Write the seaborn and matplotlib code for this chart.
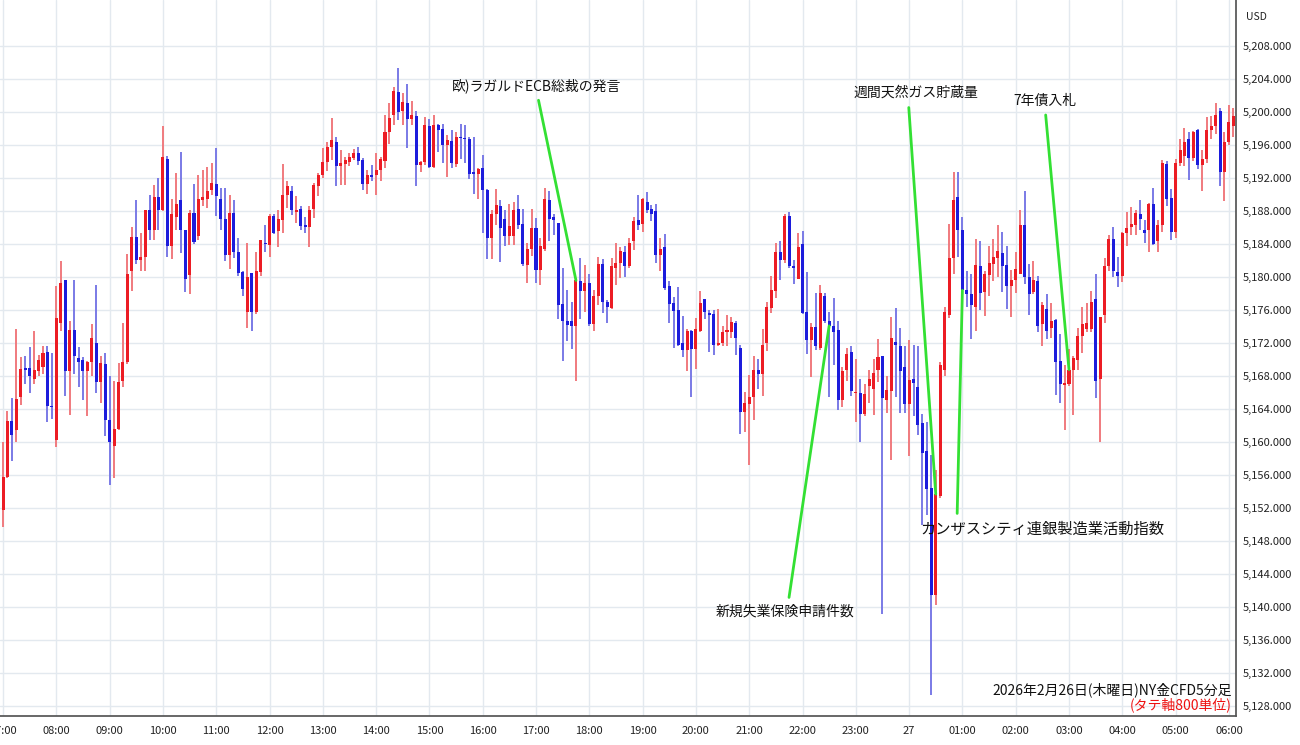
import numpy as np
import pandas as pd
import matplotlib
matplotlib.use("Agg")
import matplotlib.pyplot as plt
import seaborn as sns

# 5-minute candles, 07:00 (26th) .. 06:05 (27th)
opens = [
 5151.8, 5155.8, 5162.6, 5161.5, 5165.5, 5168.9, 5169.0, 5167.6, 5168.6, 5169.1, 5170.9, 5164.4,
 5160.2, 5174.5, 5179.6, 5168.6, 5173.6, 5170.2, 5169.9, 5168.6, 5169.7, 5172.0, 5167.3, 5169.5,
 5162.7, 5159.5, 5161.6, 5167.4, 5169.7, 5180.8, 5184.9, 5182.1, 5182.4, 5188.2, 5185.7, 5189.7,
 5188.2, 5194.3, 5183.8, 5187.3, 5189.4, 5185.7, 5180.3, 5187.8, 5185.0, 5189.4, 5189.5, 5190.6,
 5191.3, 5189.5, 5187.0, 5182.7, 5187.8, 5183.1, 5180.6, 5175.8, 5180.5, 5175.8, 5180.6, 5184.2,
 5183.9, 5187.4, 5185.6, 5186.9, 5189.9, 5190.4, 5187.9, 5188.3, 5186.3, 5186.1, 5188.3, 5191.0,
 5192.4, 5194.0, 5195.8, 5196.4, 5193.5, 5193.7, 5194.0, 5194.5, 5195.0, 5194.2, 5191.3, 5192.4,
 5192.4, 5193.0, 5194.1, 5197.6, 5199.7, 5202.5, 5200.1, 5201.1, 5199.2, 5199.5, 5193.6, 5194.0,
 5198.3, 5193.4, 5198.4, 5198.0, 5196.0, 5196.5, 5193.7, 5197.0, 5196.9, 5196.7, 5192.7, 5192.5,
 5193.2, 5190.6, 5184.7, 5187.6, 5188.6, 5187.1, 5185.0, 5185.0, 5188.3, 5186.5, 5181.5, 5183.4,
 5185.9, 5180.9, 5183.4, 5189.4, 5187.3, 5186.6, 5176.7, 5174.7, 5174.7, 5174.1, 5179.5, 5178.3,
 5179.3, 5174.3, 5177.7, 5181.6, 5177.0, 5176.3, 5181.1, 5181.7, 5183.0, 5181.4, 5184.4, 5186.9,
 5186.4, 5189.1, 5188.3, 5188.0, 5182.7, 5183.6, 5178.9, 5176.9, 5176.0, 5172.0, 5171.2, 5173.5,
 5171.3, 5173.5, 5177.3, 5175.7, 5175.5, 5171.8, 5172.0, 5173.4, 5173.3, 5174.5, 5171.4, 5163.6,
 5164.6, 5165.5, 5168.8, 5168.2, 5172.0, 5176.3, 5178.3, 5183.0, 5182.1, 5187.4, 5181.4, 5179.8,
 5184.0, 5175.8, 5172.4, 5173.9, 5171.4, 5177.7, 5174.7, 5174.1, 5173.6, 5165.1, 5168.8, 5170.9,
 5165.9, 5166.0, 5163.4, 5166.8, 5166.5, 5168.7, 5170.5, 5165.1, 5166.2, 5172.2, 5171.6, 5169.1,
 5164.6, 5167.6, 5166.7, 5162.3, 5158.9, 5154.5, 5141.5, 5153.5, 5168.8, 5175.4, 5182.3, 5189.7,
 5185.7, 5178.4, 5178.0, 5176.4, 5181.3, 5178.2, 5180.3, 5181.6, 5182.3, 5182.9, 5181.5, 5178.9,
 5179.6, 5180.4, 5186.3, 5180.0, 5178.2, 5179.5, 5174.3, 5176.2, 5173.8, 5174.8, 5169.8, 5166.9,
 5167.1, 5168.8, 5169.9, 5172.9, 5173.7, 5173.7, 5177.3, 5167.7, 5175.4, 5181.4, 5184.6, 5180.6,
 5180.2, 5185.3, 5186.1, 5186.3, 5187.7, 5185.7, 5185.7, 5188.9, 5184.4, 5186.3, 5193.7, 5189.6,
 5185.5, 5193.9, 5194.7, 5196.8, 5194.5, 5197.9, 5193.6, 5194.3, 5197.8, 5198.3, 5200.2, 5192.7,
 5196.4, 5198.3]
highs = [
 5160.0, 5163.8, 5165.4, 5173.7, 5170.3, 5170.5, 5171.5, 5173.5, 5170.6, 5171.6, 5171.6, 5170.8,
 5178.9, 5182.0, 5179.6, 5174.7, 5179.7, 5171.5, 5170.3, 5169.8, 5174.3, 5179.0, 5170.5, 5170.8,
 5168.0, 5167.4, 5169.6, 5174.5, 5182.8, 5186.1, 5189.3, 5185.3, 5188.2, 5190.0, 5191.2, 5192.0,
 5198.3, 5194.7, 5189.5, 5192.6, 5195.2, 5185.7, 5188.2, 5191.3, 5192.4, 5193.0, 5193.4, 5193.9,
 5195.6, 5190.8, 5190.8, 5189.9, 5189.3, 5184.7, 5180.7, 5184.1, 5180.5, 5183.1, 5184.5, 5186.3,
 5187.6, 5187.6, 5188.1, 5193.7, 5191.6, 5191.1, 5189.8, 5188.6, 5187.3, 5188.6, 5191.4, 5192.6,
 5195.6, 5196.4, 5199.3, 5197.0, 5195.4, 5194.6, 5195.0, 5195.5, 5195.8, 5194.5, 5193.0, 5193.6,
 5195.1, 5194.6, 5199.6, 5201.1, 5203.1, 5205.4, 5202.3, 5203.4, 5201.3, 5200.1, 5194.1, 5199.4,
 5199.2, 5199.6, 5198.6, 5198.6, 5197.2, 5197.9, 5197.6, 5198.6, 5198.4, 5197.0, 5197.0, 5193.2,
 5194.8, 5190.7, 5188.1, 5190.7, 5189.3, 5188.1, 5188.9, 5189.1, 5189.9, 5188.3, 5184.2, 5188.3,
 5187.2, 5184.8, 5190.8, 5190.5, 5187.7, 5186.6, 5181.1, 5178.4, 5177.0, 5179.9, 5182.3, 5181.5,
 5180.4, 5178.4, 5182.4, 5182.2, 5177.2, 5182.3, 5184.1, 5183.7, 5183.8, 5184.8, 5187.3, 5190.0,
 5189.6, 5190.3, 5188.7, 5188.9, 5184.7, 5185.2, 5179.5, 5177.6, 5178.8, 5175.3, 5173.7, 5173.6,
 5175.1, 5178.3, 5177.3, 5176.0, 5176.0, 5176.1, 5174.1, 5175.4, 5175.2, 5174.7, 5171.8, 5166.1,
 5168.1, 5170.5, 5170.1, 5173.7, 5177.0, 5180.2, 5184.1, 5184.4, 5187.7, 5187.9, 5182.1, 5185.3,
 5185.6, 5180.6, 5174.5, 5178.1, 5179.0, 5178.1, 5175.8, 5177.5, 5174.7, 5169.1, 5171.4, 5171.6,
 5170.1, 5167.6, 5167.0, 5168.8, 5170.1, 5172.5, 5170.5, 5168.0, 5175.2, 5176.3, 5173.8, 5171.7,
 5172.4, 5171.8, 5171.7, 5163.4, 5162.4, 5158.4, 5156.6, 5169.7, 5176.4, 5186.5, 5192.8, 5192.7,
 5187.3, 5180.8, 5180.4, 5184.6, 5184.4, 5180.7, 5183.8, 5184.6, 5186.3, 5185.5, 5183.8, 5180.9,
 5183.0, 5188.1, 5190.5, 5181.6, 5182.0, 5180.2, 5177.0, 5178.0, 5176.9, 5174.9, 5173.1, 5169.3,
 5171.3, 5170.4, 5173.8, 5176.4, 5176.9, 5178.3, 5180.4, 5175.2, 5182.3, 5185.1, 5186.1, 5182.4,
 5185.5, 5187.9, 5188.5, 5188.2, 5189.3, 5186.9, 5189.0, 5190.8, 5186.9, 5194.2, 5194.1, 5190.7,
 5194.3, 5196.8, 5198.1, 5197.6, 5197.7, 5198.0, 5195.4, 5199.4, 5199.5, 5201.1, 5200.5, 5197.6,
 5200.9, 5200.5]
lows = [
 5149.7, 5155.7, 5157.7, 5160.0, 5164.5, 5167.0, 5166.0, 5167.0, 5168.0, 5168.3, 5162.5, 5162.8,
 5159.4, 5173.5, 5165.6, 5163.3, 5168.3, 5166.7, 5165.1, 5163.2, 5168.0, 5165.9, 5164.7, 5160.7,
 5154.8, 5155.6, 5161.5, 5166.7, 5169.5, 5178.3, 5181.6, 5180.8, 5180.7, 5184.5, 5184.5, 5185.7,
 5188.0, 5182.4, 5182.2, 5185.7, 5182.9, 5178.2, 5178.0, 5184.0, 5184.5, 5188.6, 5188.4, 5190.0,
 5187.4, 5185.7, 5181.9, 5181.0, 5182.3, 5180.1, 5177.7, 5173.8, 5173.5, 5175.5, 5180.1, 5183.1,
 5182.5, 5185.2, 5183.7, 5185.3, 5188.4, 5187.5, 5186.6, 5185.7, 5185.4, 5183.7, 5187.2, 5189.8,
 5192.0, 5192.9, 5194.2, 5191.1, 5191.2, 5191.2, 5193.5, 5194.2, 5193.6, 5190.6, 5190.1, 5191.7,
 5190.0, 5191.6, 5193.2, 5196.1, 5198.4, 5199.1, 5198.4, 5195.6, 5198.5, 5191.1, 5192.7, 5193.6,
 5193.2, 5193.2, 5195.2, 5193.9, 5192.2, 5193.2, 5193.4, 5194.3, 5193.9, 5191.9, 5190.1, 5189.5,
 5185.3, 5182.2, 5182.2, 5186.3, 5181.8, 5183.8, 5183.9, 5183.9, 5185.8, 5181.4, 5179.3, 5182.6,
 5179.3, 5179.1, 5183.2, 5184.4, 5185.1, 5174.9, 5169.8, 5172.3, 5171.3, 5167.4, 5174.9, 5175.8,
 5174.1, 5173.5, 5176.6, 5175.6, 5174.5, 5176.2, 5179.0, 5179.9, 5180.0, 5181.1, 5183.3, 5185.7,
 5185.5, 5187.8, 5186.8, 5181.7, 5180.7, 5178.4, 5174.4, 5171.4, 5171.7, 5170.3, 5168.6, 5165.5,
 5168.9, 5173.3, 5174.9, 5170.9, 5170.6, 5171.7, 5171.6, 5171.6, 5172.6, 5170.6, 5161.0, 5161.2,
 5157.2, 5162.7, 5166.4, 5165.6, 5171.0, 5175.6, 5177.5, 5179.6, 5181.7, 5181.1, 5179.2, 5179.8,
 5175.5, 5170.7, 5167.9, 5171.2, 5171.2, 5174.5, 5165.5, 5169.3, 5163.9, 5164.3, 5167.4, 5165.6,
 5162.4, 5160.0, 5163.2, 5164.8, 5163.3, 5167.3, 5139.2, 5163.5, 5157.8, 5165.5, 5163.5, 5163.5,
 5158.3, 5163.2, 5160.9, 5149.9, 5151.2, 5129.4, 5140.2, 5153.2, 5168.0, 5175.0, 5180.4, 5182.5,
 5178.4, 5176.4, 5172.5, 5173.5, 5176.0, 5175.3, 5177.7, 5179.5, 5180.0, 5178.2, 5176.2, 5175.2,
 5178.1, 5180.4, 5179.2, 5175.4, 5177.9, 5173.4, 5171.7, 5172.5, 5172.6, 5165.7, 5164.8, 5161.5,
 5166.8, 5163.3, 5168.8, 5170.8, 5173.4, 5173.3, 5165.3, 5160.0, 5174.5, 5180.7, 5180.0, 5178.8,
 5179.4, 5183.8, 5185.1, 5185.1, 5185.7, 5184.2, 5183.0, 5183.9, 5183.0, 5185.5, 5188.6, 5184.5,
 5184.8, 5193.5, 5193.5, 5191.8, 5194.1, 5193.1, 5190.4, 5193.9, 5196.8, 5197.4, 5191.1, 5189.2,
 5196.0, 5197.0]
closes = [
 5155.8, 5162.6, 5160.9, 5165.2, 5168.9, 5168.8, 5168.0, 5168.8, 5170.0, 5170.8, 5164.4, 5164.2,
 5175.0, 5179.3, 5168.6, 5173.6, 5170.5, 5169.7, 5168.6, 5169.7, 5172.6, 5167.3, 5169.6, 5162.7,
 5160.0, 5161.6, 5167.3, 5169.7, 5180.4, 5184.9, 5182.1, 5182.5, 5188.2, 5185.7, 5189.7, 5188.1,
 5194.6, 5183.8, 5187.6, 5188.9, 5185.7, 5179.8, 5187.8, 5184.3, 5189.5, 5189.7, 5190.5, 5191.4,
 5189.8, 5187.0, 5182.7, 5187.8, 5183.1, 5180.5, 5178.6, 5180.0, 5175.8, 5180.7, 5184.5, 5184.0,
 5187.4, 5185.4, 5187.0, 5189.9, 5191.0, 5188.1, 5188.2, 5186.2, 5186.1, 5188.2, 5191.2, 5192.4,
 5194.0, 5195.8, 5196.6, 5193.5, 5193.8, 5194.2, 5194.6, 5195.1, 5194.1, 5191.3, 5192.4, 5192.2,
 5193.0, 5194.3, 5197.6, 5199.3, 5202.6, 5200.0, 5201.2, 5199.2, 5199.7, 5193.6, 5194.0, 5198.5,
 5193.4, 5198.4, 5197.9, 5196.0, 5196.6, 5193.9, 5197.0, 5196.9, 5196.8, 5192.5, 5192.5, 5193.1,
 5190.6, 5184.7, 5187.6, 5188.8, 5185.9, 5185.0, 5186.2, 5188.2, 5186.3, 5181.6, 5183.4, 5185.9,
 5180.9, 5183.8, 5189.5, 5187.1, 5186.9, 5176.6, 5174.7, 5174.2, 5174.1, 5179.6, 5178.3, 5179.3,
 5174.3, 5177.7, 5181.6, 5177.0, 5176.4, 5181.4, 5181.7, 5183.2, 5181.4, 5184.2, 5186.8, 5186.3,
 5189.5, 5188.2, 5187.7, 5182.7, 5183.4, 5178.7, 5176.8, 5175.9, 5171.8, 5171.2, 5173.5, 5171.3,
 5173.7, 5176.9, 5175.8, 5175.4, 5171.8, 5172.0, 5173.4, 5173.6, 5174.6, 5172.6, 5163.6, 5164.7,
 5165.5, 5168.7, 5168.2, 5171.8, 5176.4, 5178.4, 5183.0, 5182.1, 5187.4, 5181.3, 5181.1, 5183.7,
 5175.7, 5172.4, 5173.9, 5171.6, 5178.1, 5174.7, 5174.1, 5173.3, 5165.1, 5168.6, 5170.7, 5166.2,
 5166.0, 5163.4, 5165.8, 5167.6, 5168.4, 5170.3, 5165.4, 5166.3, 5172.6, 5171.8, 5168.6, 5164.6,
 5167.5, 5167.2, 5162.1, 5158.7, 5154.3, 5141.5, 5153.7, 5169.3, 5175.8, 5182.3, 5189.3, 5185.7,
 5178.4, 5177.9, 5176.6, 5181.5, 5178.1, 5180.4, 5181.7, 5182.4, 5183.2, 5181.4, 5178.9, 5179.6,
 5181.0, 5186.3, 5180.0, 5178.0, 5179.6, 5174.1, 5176.6, 5173.5, 5174.7, 5169.7, 5167.0, 5167.2,
 5168.8, 5170.2, 5172.9, 5174.3, 5174.5, 5177.0, 5167.4, 5175.2, 5181.4, 5184.6, 5180.7, 5180.2,
 5185.4, 5185.9, 5186.4, 5187.8, 5187.0, 5185.4, 5188.9, 5184.0, 5186.3, 5193.9, 5189.5, 5185.5,
 5193.9, 5195.4, 5196.4, 5194.4, 5197.6, 5193.6, 5194.3, 5197.8, 5198.3, 5199.7, 5192.7, 5196.4,
 5198.8, 5199.5]

hour_labels = ["07:00", "08:00", "09:00", "10:00", "11:00", "12:00", "13:00", "14:00",
               "15:00", "16:00", "17:00", "18:00", "19:00", "20:00", "21:00", "22:00",
               "23:00", "27", "01:00", "02:00", "03:00", "04:00", "05:00", "06:00"]
price_ticks = list(range(5128, 5212, 4))

# event notes: (label, candle index)
events = [
    ("欧)ラガルドECB総裁の発言", 129),
    ("週間天然ガス貯蔵量", 210),
    ("カンザスシティ連銀製造業活動指数", 216),
    ("新規失業保険申請件数", 186),
    ("7年債入札", 240),
]

df = pd.DataFrame({"open": opens, "high": highs, "low": lows, "close": closes})
df["up"] = df["close"] >= df["open"]

sns.set_theme(style="white")
plt.rcParams["font.family"] = ["Noto Sans CJK JP", "DejaVu Sans"]

RED, RED_W = "#ec1c24", "#f07a7e"
BLUE, BLUE_W = "#1c1cdc", "#7a7ae6"
GREEN = "#33e033"

fig = plt.figure(figsize=(13, 7.45), dpi=100)
ax = fig.add_axes([0, 29 / 745, 1236 / 1300, 716 / 745])

for spine in ["top", "left"]:
    ax.spines[spine].set_visible(False)
ax.spines["bottom"].set_color("#555555")
ax.spines["right"].set_color("#555555")

x = np.arange(len(df))
wick_col = np.where(df["up"], RED_W, BLUE_W)
body_col = np.where(df["up"], RED, BLUE)
ax.vlines(x, df["low"], df["high"], colors=wick_col, linewidth=1.4, zorder=2)
body_lo = df[["open", "close"]].min(axis=1)
body_h = (df["close"] - df["open"]).abs().clip(lower=0.13)
ax.bar(x, body_h, bottom=body_lo, width=0.68, color=body_col, linewidth=0, zorder=3)

ax.set_xlim(-0.68, 277.6)
ax.set_ylim(5126.8, 5213.6)
ax.set_xticks(np.arange(len(hour_labels)) * 12)
ax.set_xticklabels(hour_labels)
ax.set_yticks(price_ticks)
ax.set_yticklabels([f"{p:,.3f}" for p in price_ticks])
ax.yaxis.tick_right()
ax.grid(True, color="#e3e9ef", linewidth=1)
ax.set_axisbelow(True)
ax.tick_params(axis="both", length=0, labelsize=8, colors="#222222")
ax.tick_params(axis="x", pad=7)
ax.tick_params(axis="y", pad=5)

# notes with green leader lines (text offsets in pixels from the candle)
offsets = [(-39, 195, (0.5, 0.0), "center", 10),
           (-20, 401, (0.44, 0.0), "center", 10),
           (-42, -239, (0.15, 1.0), "left", 11),
           (-44, -286, (0.52, 1.0), "center", 10),
           (-24, 269, (0.5, 0.0), "center", 10)]
for (label, idx), (dx, dy, rp, ha, fs) in zip(events, offsets):
    ax.annotate(label, xy=(idx, df["close"][idx]), xytext=(dx, dy),
                textcoords="offset pixels", ha=ha, va="center", fontsize=fs,
                color="#111111", zorder=5,
                arrowprops=dict(arrowstyle="-", color=GREEN, lw=2,
                                relpos=rp, shrinkA=3, shrinkB=0))

fig.text(1232 / 1300, 1 - 690 / 745, "2026年2月26日(木曜日)NY金CFD5分足",
         ha="right", va="center", fontsize=10, color="#111111")
fig.text(1232 / 1300, 1 - 705 / 745, "(タテ軸800単位)",
         ha="right", va="center", fontsize=10, color="#ee1111")
fig.text(1246 / 1300, 1 - 17 / 745, "USD", ha="left", va="center",
         fontsize=7.5, color="#222222")

fig.savefig("out.png", dpi=100, facecolor="white")
